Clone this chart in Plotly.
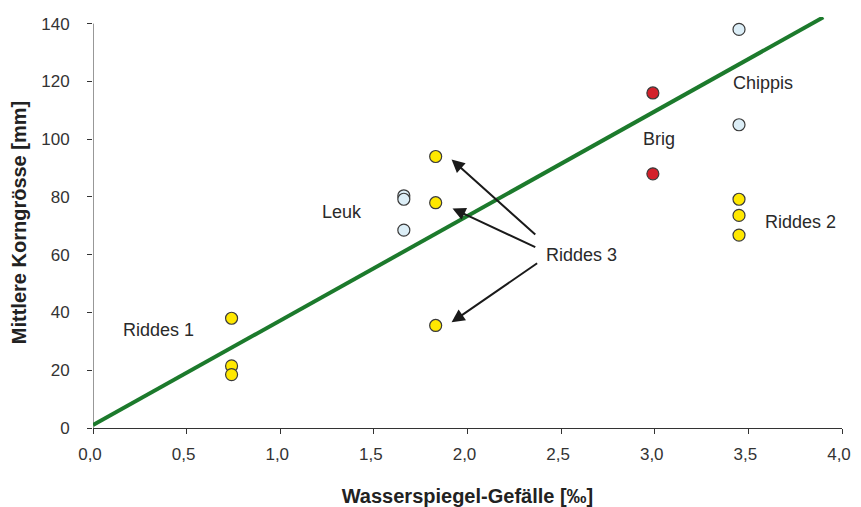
import plotly.graph_objects as go

# Data
riddes_yellow_x = [0.74, 0.74, 0.74, 1.83, 1.83, 1.83, 3.45, 3.45, 3.45]
riddes_yellow_y = [38.0, 21.5, 18.5, 94.0, 78.0, 35.5, 79.2, 73.6, 66.8]
blue_x = [1.66, 1.66, 1.66, 3.45, 3.45]
blue_y = [80.4, 79.2, 68.5, 138.0, 105.0]
brig_x = [2.99, 2.99]
brig_y = [116.0, 88.0]
trend_x = [0.0, 3.90]
trend_y = [1.0, 142.2]

label_texts = ["Riddes 1", "Leuk", "Riddes 3", "Brig", "Chippis", "Riddes 2"]
label_x = [0.35, 1.33, 2.61, 3.02, 3.58, 3.78]
label_y = [33.9, 74.7, 59.8, 100.2, 119.6, 71.2]

arrow_tail_x = [2.37, 2.37, 2.38]
arrow_tail_y = [66.5, 62.4, 57.4]
arrow_head_x = [1.915, 1.920, 1.915]
arrow_head_y = [93.0, 76.0, 36.6]

x_ticks = [0, 0.5, 1.0, 1.5, 2.0, 2.5, 3.0, 3.5, 4.0]
x_ticklabels = ["0,0", "0,5", "1,0", "1,5", "2,0", "2,5", "3,0", "3,5", "4,0"]
y_ticks = [0, 20, 40, 60, 80, 100, 120, 140]

font_family = "Liberation Sans, Arial, sans-serif"

fig = go.Figure()
fig.add_trace(go.Scatter(x=trend_x, y=trend_y, mode="lines",
                         line=dict(color="#1C7A2C", width=4), hoverinfo="skip"))
marker_line = dict(color="#3a3a3a", width=1.2)
fig.add_trace(go.Scatter(x=blue_x, y=blue_y, mode="markers",
                         marker=dict(size=12, color="#DCEEF7", line=marker_line)))
fig.add_trace(go.Scatter(x=riddes_yellow_x, y=riddes_yellow_y, mode="markers",
                         marker=dict(size=12, color="#FFE800", line=marker_line)))
fig.add_trace(go.Scatter(x=brig_x, y=brig_y, mode="markers",
                         marker=dict(size=12, color="#D3202A", line=marker_line)))

annotations = []
for t, x, y in zip(label_texts, label_x, label_y):
    annotations.append(dict(x=x, y=y, text=t, showarrow=False,
                            font=dict(family=font_family, size=18, color="#2a2a2a")))
for tx, ty, hx, hy in zip(arrow_tail_x, arrow_tail_y, arrow_head_x, arrow_head_y):
    annotations.append(dict(x=hx, y=hy, ax=tx, ay=ty, xref="x", yref="y",
                            axref="x", ayref="y", text="", showarrow=True,
                            arrowhead=2, arrowsize=1.3, arrowwidth=2,
                            arrowcolor="#1a1a1a"))

fig.update_layout(
    width=861, height=507,
    margin=dict(l=85, r=27, t=9, b=87, autoexpand=False),
    paper_bgcolor="white", plot_bgcolor="white",
    showlegend=False,
    annotations=annotations,
    font=dict(family=font_family, color="#333333"),
    shapes=[dict(type="line", xref="x", yref="y", x0=0, x1=0, y0=0, y1=140,
                 line=dict(color="#333333", width=1), layer="below")],
)
fig.update_xaxes(range=[0, 4.0], tickvals=x_ticks, ticktext=x_ticklabels,
                 automargin=False, ticklabeloverflow="allow", ticklabelshift=-3,
                 showgrid=False, zeroline=False, showline=True, linecolor="#333333",
                 linewidth=1, ticks="outside", ticklen=5, tickcolor="#333333",
                 ticklabelstandoff=6,
                 tickfont=dict(size=17, color="#333333"),
                 title=dict(text="<b>Wasserspiegel-Gefälle [‰]</b>",
                            font=dict(size=20, color="#222222"), standoff=25))
fig.update_yaxes(range=[0, 142.3], tickvals=y_ticks, automargin=False,
                 showgrid=False, zeroline=False, showline=False,
                 ticks="outside", ticklen=5, tickcolor="#333333",
                 ticklabelstandoff=14,
                 tickfont=dict(size=17, color="#333333"),
                 title=dict(text="<b>Mittlere Korngrösse [mm]</b>",
                            font=dict(size=20, color="#222222"), standoff=12))

fig.write_html("out.html")
